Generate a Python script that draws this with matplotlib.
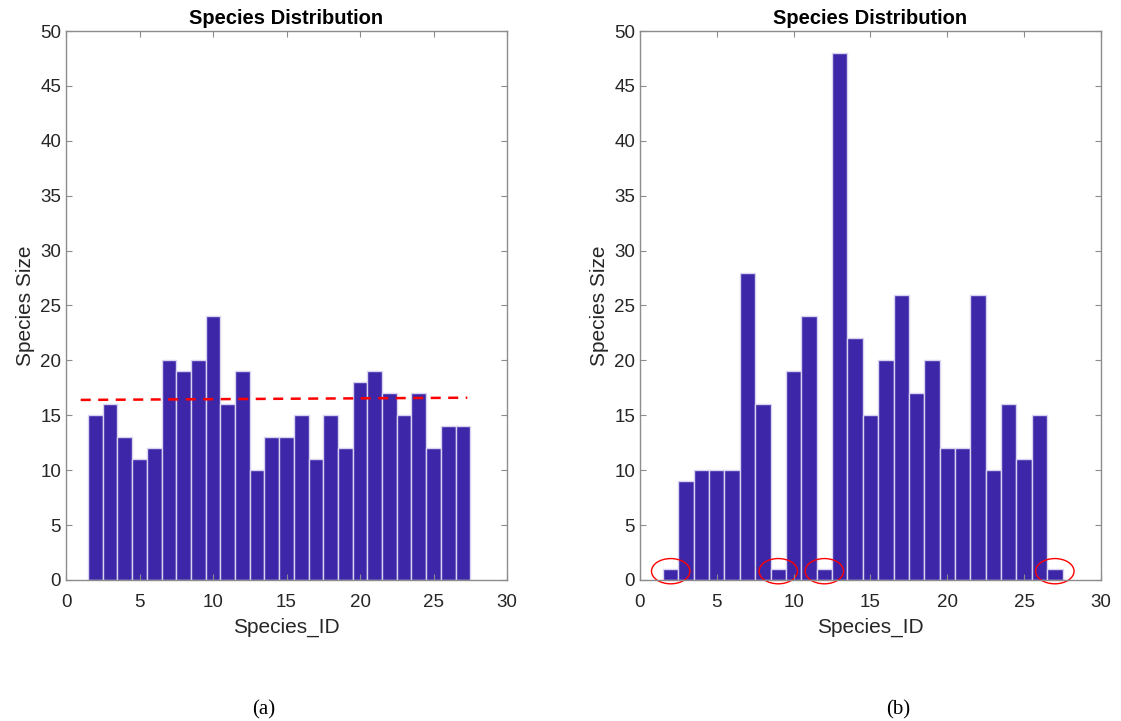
import matplotlib.pyplot as plt
from matplotlib.patches import Ellipse

# data -----------------------------------------------------------------------
species_id = list(range(2, 28))
size_a = [15, 16, 13, 11, 12, 20, 19, 20, 24, 16, 19, 10, 13, 13, 15, 11,
          15, 12, 18, 19, 17, 15, 17, 12, 14, 14]
size_b = [1, 9, 10, 10, 10, 28, 16, 1, 19, 24, 1, 48, 22, 15, 20, 26,
          17, 20, 12, 12, 26, 10, 16, 11, 15, 1]
trend_x = [1.0, 27.3]
trend_y = [16.4, 16.6]
circled_ids = [2, 9, 12, 27]
# ---------------------------------------------------------------------------

plt.rcParams['font.family'] = ['Liberation Sans', 'DejaVu Sans']
bar_color = '#3e26a8'
axis_color = '#8c8c8c'
text_color = '#262626'

fig = plt.figure(figsize=(11.21, 7.21), dpi=100)
ax_a = fig.add_axes([0.0589, 0.1956, 0.3934, 0.7614])
ax_b = fig.add_axes([0.5709, 0.1956, 0.4112, 0.7614])


def style(ax):
    ax.set_xlim(0, 30)
    ax.set_ylim(0, 50)
    ax.set_xticks(range(0, 31, 5))
    ax.set_yticks(range(0, 51, 5))
    ax.tick_params(direction='in', top=True, right=True, length=4,
                   color=axis_color, labelsize=13.5, labelcolor=text_color)
    ax.tick_params(axis='x', pad=10)
    for s in ax.spines.values():
        s.set_color(axis_color)
        s.set_linewidth(1.0)
    ax.set_title('Species Distribution', fontsize=14.5, fontweight='bold', pad=5)
    ax.set_xlabel('Species_ID', fontsize=15, color=text_color, labelpad=5)
    ax.set_ylabel('Species Size', fontsize=15, color=text_color, labelpad=4)


ax_a.bar(species_id, size_a, width=1.0, color=bar_color,
         edgecolor='#d8d4f0', linewidth=1.0)
ax_a.plot(trend_x, trend_y, color='red', linestyle='--', linewidth=1.8,
          dashes=(4, 3))
style(ax_a)

ax_b.bar(species_id, size_b, width=1.0, color=bar_color,
         edgecolor='#d8d4f0', linewidth=1.0)
for cid in circled_ids:
    ax_b.add_patch(Ellipse((cid, 0.8), 2.5, 2.3, fill=False,
                           edgecolor='red', linewidth=1.0, clip_on=False))
style(ax_b)

fig.text(264 / 1121, 1 - 710 / 721, '(a)', family='Liberation Serif',
         fontsize=15, ha='center', va='center')
fig.text(898 / 1121, 1 - 710 / 721, '(b)', family='Liberation Serif',
         fontsize=15, ha='center', va='center')

fig.savefig('out.png', dpi=100)
